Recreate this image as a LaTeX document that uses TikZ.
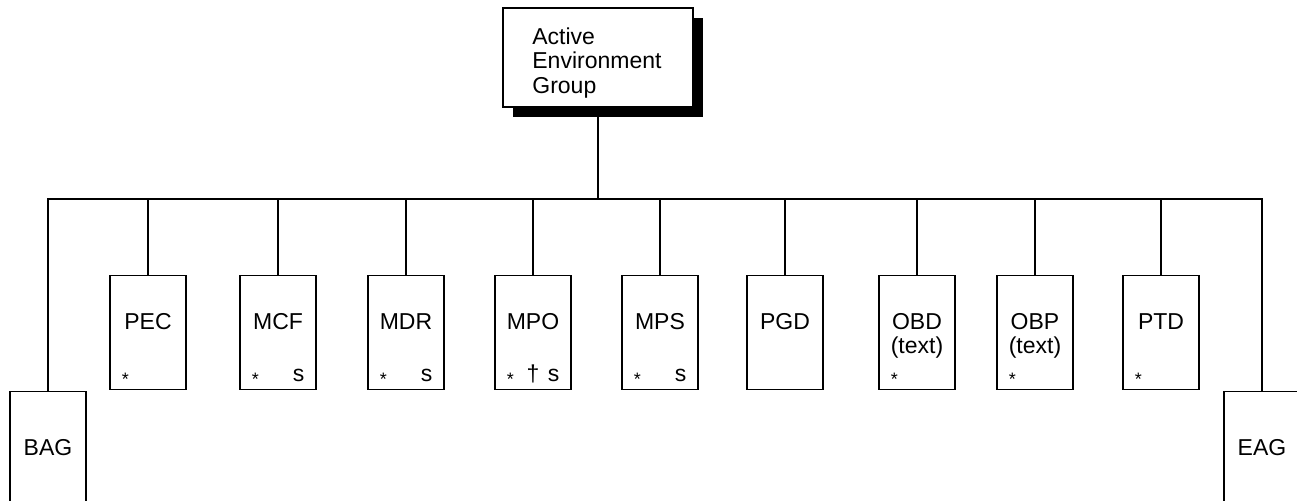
\documentclass[tikz,border=0pt]{standalone}
\usepackage{fontspec}
\setmainfont{Liberation Sans}
\usetikzlibrary{shadows}

\tikzset{
  envbox/.style={draw,fill=white,line width=0.7pt,minimum width=38pt,minimum height=57pt,inner sep=0pt},
  boxlabel/.style={inner sep=0pt,align=center,font=\fontsize{11.5}{12}\selectfont},
  tagstar/.style={inner sep=0pt,font=\fontsize{9}{9}\selectfont},
  tagsym/.style={inner sep=0pt,font=\fontsize{11.5}{12}\selectfont},
  link/.style={line width=0.7pt}
}

\begin{document}
\begin{tikzpicture}[x=0.5pt,y=-0.5pt]
     	\clip (0,0) rectangle (1297,501);
     	\coordinate (bus) at (0,199);
     	
     	% group at the top
     	\node[draw,fill=white,line width=0.7pt,minimum width=95pt,minimum height=49.5pt,inner sep=0pt,
     	      drop shadow={shadow xshift=4.8pt,shadow yshift=-4.8pt,fill=black,opacity=1}]
     	      (aeg) at (598,57.5) {};
     	\node[anchor=north west,inner sep=0pt,align=left,font=\fontsize{11.5}{12.3}\selectfont]
     	      (aegtext) at (532,27) {Active\\Environment\\Group};
     	
     	% children
     	\foreach \x/\name/\lbl in {148/pec/PEC,278/mcf/MCF,406/mdr/MDR,533/mpo/MPO,660/mps/MPS,
     	                           785/pgd/PGD,917/obd/{OBD\\(text)},1035/obp/{OBP\\(text)},1161/ptd/PTD}{
     	  \node[envbox,anchor=north] (\name) at (\x,275) {};
     	  \node[boxlabel,anchor=north] (\name-l) at (\x,313) {\lbl};
     	  \draw[link] (\name.north) -- (\name.north |- bus);
     	}
     	
     	\node[envbox,anchor=north] (bag) at (48,391) {};
     	\node[boxlabel] (bag-l) at (48,448) {BAG};
     	\node[envbox,anchor=north] (eag) at (1262,391) {};
     	\node[boxlabel] (eag-l) at (1262,448) {EAG};
     	
     	\draw[link] (aeg.south) -- (aeg.south |- bus);
     	\draw[link] (bag.north) -- (bag.north |- bus) -- (eag.north |- bus) -- (eag.north);
     	
     	% marks in the boxes
     	\foreach \name in {pec,mcf,mdr,mpo,mps,obd,obp,ptd}
     	  \node[tagstar] (\name-star) at ([xshift=8pt,yshift=5.5pt]\name.south west) {*};
     	\foreach \name in {mcf,mdr,mpo,mps}
     	  \node[tagsym] (\name-s) at ([xshift=-9pt,yshift=7.5pt]\name.south east) {s};
     	\node[tagsym] (mpo-dag) at ([yshift=8pt]mpo.south) {\dag};
\end{tikzpicture}
\end{document}
